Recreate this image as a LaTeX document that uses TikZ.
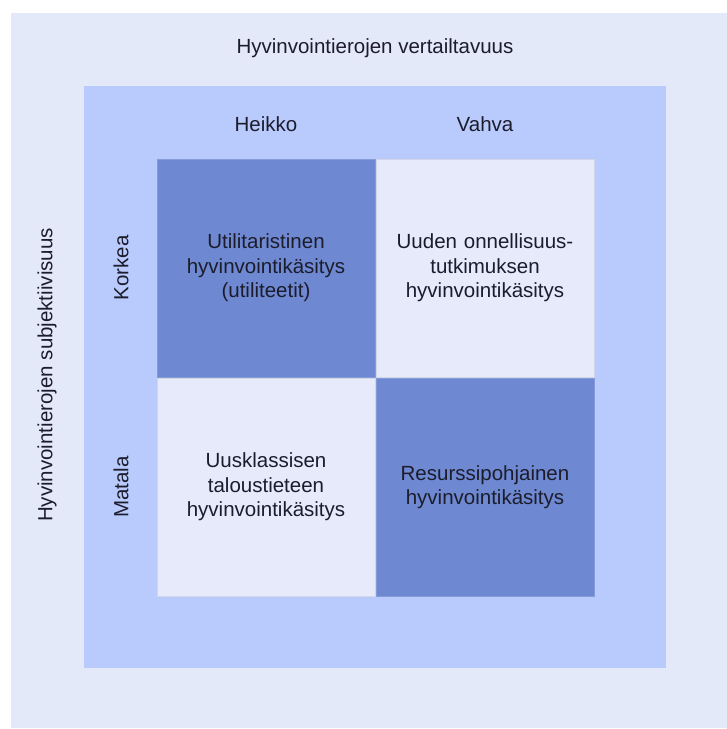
\documentclass[tikz,border=0pt]{standalone}
\usepackage{fontspec}
\setmainfont{Liberation Sans}
\definecolor{bgouter}{HTML}{E4E9FA}
\definecolor{bgmid}{HTML}{B9CAFC}
\definecolor{celldark}{HTML}{6E89D1}
\definecolor{celllight}{HTML}{E6EAFA}
\definecolor{cellline}{HTML}{D2D6E6}
\definecolor{txt}{HTML}{1C1C2C}
\begin{document}
\begin{tikzpicture}[x=1pt,y=-1pt,
  every node/.style={font=\fontsize{20.5}{24.5}\selectfont, text=txt, inner sep=0pt},
  cell/.style={draw=cellline, line width=0.8pt, minimum width=218pt, minimum height=218pt, align=center, text width=210pt},
  darkcell/.style={cell, fill=celldark, draw=celldark!85!white},
  lightcell/.style={cell, fill=celllight},
  lbl/.style={anchor=center}
]
\useasboundingbox (0,0) rectangle (727,729);
\fill[white] (0,0) rectangle (727,729);
\fill[bgouter] (11,13) rectangle (727,728);
\fill[bgmid] (84,86) rectangle (666,668);

\node[darkcell]  (tl) at (266,268) {Utilitaristinen\\hyvinvointikäsitys\\(utiliteetit)};
\node[lightcell] (tr) at (485,268) {Uuden onnellisuus-\\tutkimuksen\\hyvinvointikäsitys};
\node[lightcell] (bl) at (266,487) {Uusklassisen\\taloustieteen\\hyvinvointikäsitys};
\node[darkcell]  (br) at (485,487) {Resurssipohjainen\\hyvinvointikäsitys};

\node[lbl] (title) at (375,48) {Hyvinvointierojen vertailtavuus};
\node[lbl] (heikko) at (266,124) {Heikko};
\node[lbl] (vahva) at (485,124) {Vahva};
\node[lbl, rotate=90] (ytitle) at (47,375) {Hyvinvointierojen subjektiivisuus};
\node[lbl, rotate=90] (korkea) at (121,268) {Korkea};
\node[lbl, rotate=90] (matala) at (121,487) {Matala};
\end{tikzpicture}
\end{document}
